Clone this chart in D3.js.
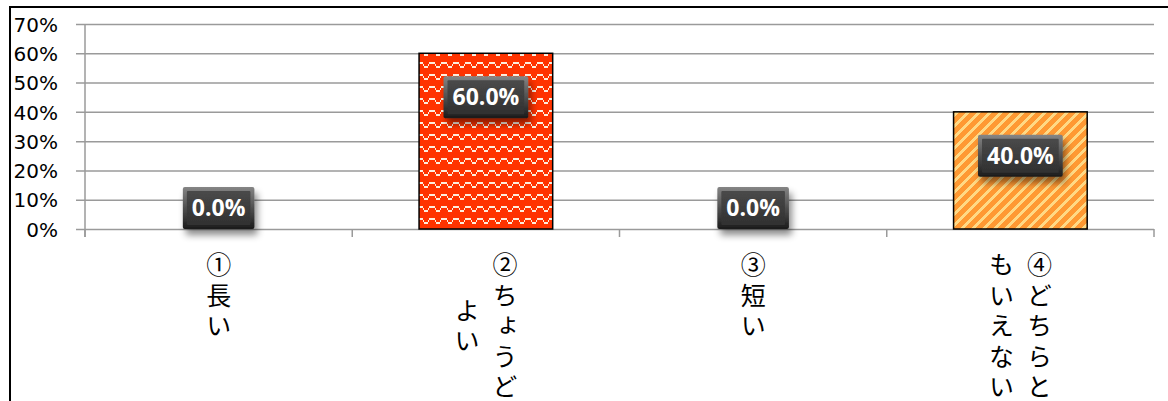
<!DOCTYPE html>
<html>
<head>
<meta charset="utf-8">
<title>chart</title>
<script src="https://d3js.org/d3.v7.min.js"></script>
<style>
  body { margin: 0; background: #fff; }
  svg { display: block; }
  .ytick text { font: 20px "DejaVu Sans", sans-serif; fill: #000; }
  .cat { font: 25px "Noto Sans CJK JP", sans-serif; fill: #000; writing-mode: vertical-rl; letter-spacing: 5.5px; }
  .lbl { font: bold 23px "Open Sans", sans-serif; fill: #fff; }
</style>
</head>
<body>
<div id="chart"></div>
<script>
// data
var categories = ["①長い", "②ちょうどよい", "③短い", "④どちらともいえない"];
var values = [0, 0.6, 0, 0.4];
var labels = ["0.0%", "60.0%", "0.0%", "40.0%"];
var fills = [null, "url(#wave)", null, "url(#stripe)"];
var yTicks = [0, 0.1, 0.2, 0.3, 0.4, 0.5, 0.6, 0.7];

var W = 1168, H = 401;
var plotL = 85, plotR = 1154, plotT = 24, plotB = 229;

var svg = d3.select("#chart").append("svg")
    .attr("width", W)
    .attr("height", H);

var defs = svg.append("defs");

// wave pattern (red), 12px tile
var wave = defs.append("pattern")
    .attr("id", "wave")
    .attr("patternUnits", "userSpaceOnUse")
    .attr("width", 12).attr("height", 12);
wave.append("rect").attr("width", 12).attr("height", 12).attr("fill", "#ff3300");
[[0, 2, 3, 2], [9, 2, 3, 2], [3, 4, 1, 2], [4, 6, 4, 2], [8, 4, 1, 2]].forEach(function(p) {
  wave.append("rect").attr("x", p[0]).attr("y", p[1]).attr("width", p[2]).attr("height", p[3])
    .attr("fill", "#fdeede");
});

// diagonal stripe pattern (orange), 11px tile
var stripe = defs.append("pattern")
    .attr("id", "stripe")
    .attr("patternUnits", "userSpaceOnUse")
    .attr("width", 11).attr("height", 11);
stripe.append("rect").attr("width", 11).attr("height", 11).attr("fill", "#ff9933");
for (var yy = 0; yy < 11; yy++) {
  for (var xx = 0; xx < 11; xx++) {
    if ((xx + yy) % 11 < 4) {
      stripe.append("rect").attr("x", xx).attr("y", yy).attr("width", 1).attr("height", 1)
        .attr("fill", "#ffd985");
    }
  }
}

// label box styles
var g1 = defs.append("linearGradient").attr("id", "rim").attr("x1", 0).attr("y1", 0).attr("x2", 0).attr("y2", 1);
g1.append("stop").attr("offset", "0%").attr("stop-color", "#858585");
g1.append("stop").attr("offset", "100%").attr("stop-color", "#1a1a1a");
var g2 = defs.append("linearGradient").attr("id", "face").attr("x1", 0).attr("y1", 0).attr("x2", 0).attr("y2", 1);
g2.append("stop").attr("offset", "0%").attr("stop-color", "#4a4a4a");
g2.append("stop").attr("offset", "100%").attr("stop-color", "#303030");
var sh = defs.append("filter").attr("id", "shadow")
    .attr("x", "-30%").attr("y", "-30%").attr("width", "160%").attr("height", "180%");
sh.append("feDropShadow").attr("dx", 3).attr("dy", 6).attr("stdDeviation", 3.5)
    .attr("flood-color", "#000").attr("flood-opacity", 0.45);

// chart border (top and left)
svg.append("line").attr("x1", 10).attr("x2", W).attr("y1", 7).attr("y2", 7)
    .attr("stroke", "#000").attr("stroke-width", 2);
svg.append("line").attr("x1", 10).attr("x2", 10).attr("y1", 6).attr("y2", H)
    .attr("stroke", "#000").attr("stroke-width", 2);

var x = d3.scaleBand()
    .domain(categories)
    .range([plotL, plotR])
    .paddingInner(0.5)
    .paddingOuter(0.25);

var y = d3.scaleLinear()
    .domain([0, 0.7])
    .range([plotB, plotT]);

// gridlines + y axis
var yAxis = svg.append("g")
    .attr("class", "ytick")
    .attr("transform", "translate(" + plotL + ",0)")
    .call(d3.axisLeft(y).tickValues(yTicks).tickFormat(d3.format(".0%"))
      .tickSize(9).tickPadding(18));
yAxis.select(".domain").remove();
yAxis.selectAll(".tick line").attr("stroke", "#9a9a9a").attr("stroke-width", 1.5)
    .attr("x2", plotR - plotL).attr("x1", -9);
yAxis.selectAll(".tick text").attr("dy", "0.36em");

svg.append("line").attr("x1", plotL).attr("x2", plotL).attr("y1", plotT).attr("y2", plotB + 8)
    .attr("stroke", "#9a9a9a").attr("stroke-width", 1.5);

// category ticks
var step = x.step();
var bounds = d3.range(categories.length + 1).map(function(i) { return plotL + i * step; });
svg.selectAll(".ctick").data(bounds).enter().append("line")
    .attr("x1", function(d) { return d; }).attr("x2", function(d) { return d; })
    .attr("y1", plotB).attr("y2", plotB + 8)
    .attr("stroke", "#9a9a9a").attr("stroke-width", 1.5);

// bars
values.forEach(function(v, i) {
  if (v <= 0) return;
  svg.append("rect")
    .attr("x", x(categories[i]))
    .attr("y", y(v))
    .attr("width", x.bandwidth())
    .attr("height", y(0) - y(v))
    .attr("fill", fills[i])
    .attr("stroke", "#000").attr("stroke-width", 1.5);
});

// data labels
values.forEach(function(v, i) {
  var cx = x(categories[i]) + x.bandwidth() / 2;
  var cy = Math.min(y(v) + 44, y(0) - 21);
  var g = svg.append("g").attr("transform", "translate(" + cx + "," + cy + ")");
  var t = g.append("text").attr("class", "lbl").attr("text-anchor", "middle").attr("dy", "0.35em")
      .text(labels[i]);
  var w = t.node().getComputedTextLength() + 18, h = 42;
  var box = g.insert("g", "text").attr("filter", "url(#shadow)");
  box.append("rect").attr("x", -w / 2).attr("y", -h / 2).attr("width", w).attr("height", h)
      .attr("rx", 2).attr("fill", "url(#rim)");
  box.append("rect").attr("x", -w / 2 + 4).attr("y", -h / 2 + 4).attr("width", w - 8).attr("height", h - 8)
      .attr("rx", 1).attr("fill", "url(#face)");
});

// category labels (vertical, 5 chars per column)
var perCol = 5, colGap = 38, pitch = 30.5;
categories.forEach(function(c, i) {
  var chars = Array.from(c);
  var cols = [];
  for (var k = 0; k < chars.length; k += perCol) cols.push(chars.slice(k, k + perCol).join(""));
  var cx = x(c) + x.bandwidth() / 2;
  var maxRows = Math.min(chars.length, perCol);
  cols.forEach(function(col, j) {
    var colX = cx + ((cols.length - 1) / 2 - j) * colGap;
    var n = Array.from(col).length;
    var y0 = 252 + (maxRows - n) / 2 * pitch;
    svg.append("text").attr("class", "cat")
        .attr("x", colX).attr("y", y0)
        .text(col);
  });
});
</script>
</body>
</html>
